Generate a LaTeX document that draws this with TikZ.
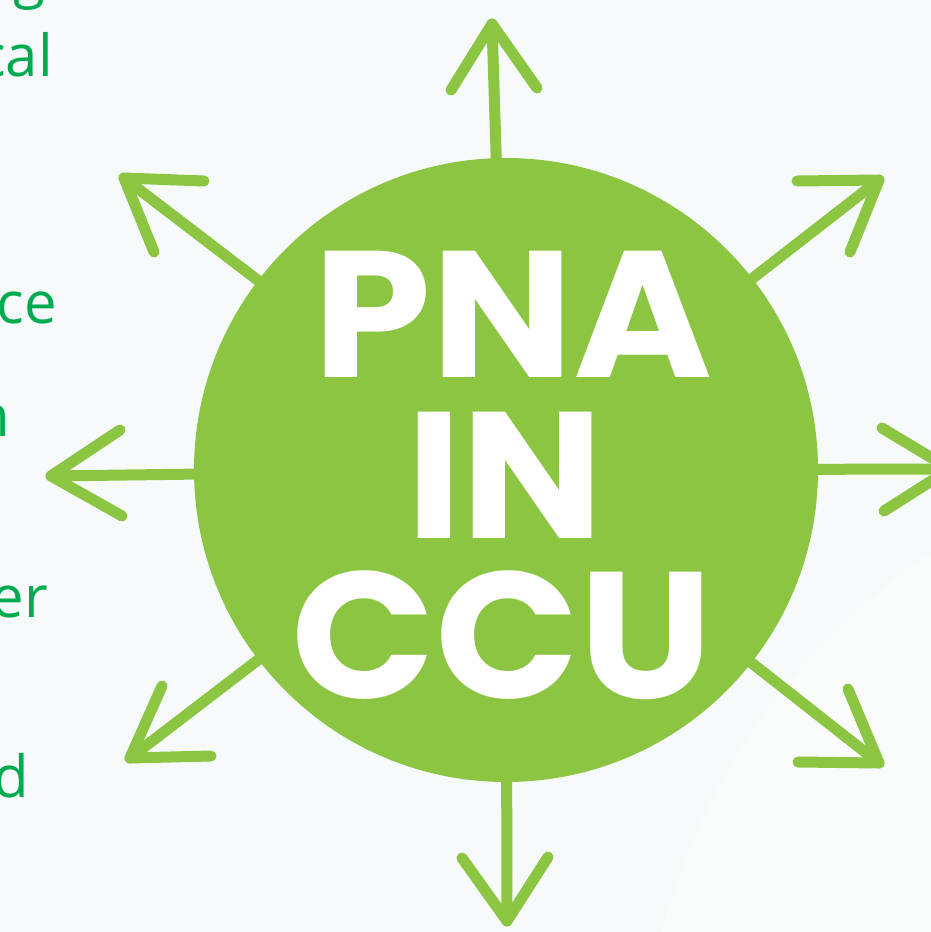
\documentclass[tikz,border=0pt]{standalone}
\usepackage{fontspec}
\setmainfont{Open Sans}
\newfontfamily\titlefont[FakeStretch=1.05]{Poppins}
\usetikzlibrary{positioning}
\definecolor{pnagreen}{HTML}{8BC541}
\definecolor{textgreen}{HTML}{00AB4F}
\definecolor{paper}{HTML}{F6FAFB}
\definecolor{paperlight}{HTML}{FAFCFC}

\begin{document}
\begin{tikzpicture}[x=1pt,y=-1pt,
  ray/.style={draw=pnagreen,line width=11pt,line cap=round,line join=round},
  side_text/.style={text=textgreen,font=\fontsize{58}{60}\selectfont,anchor=base east,inner sep=0pt},
  title_text/.style={text=white,font=\titlefont\bfseries\fontsize{180}{180}\selectfont,anchor=base,inner sep=0pt,text height=128pt,text depth=0pt}]
\useasboundingbox (0,0) rectangle (931,932);
\fill[paper] (0,0) rectangle (931,932);
\fill[paperlight] (1300,1100) circle (660);
% cut text on the left
\node[side_text] (text_a) at (45,-4) {g};
\node[side_text] (text_b) at (53,76) {cal};
\node[side_text] (text_c) at (57,323) {nce};
\node[side_text] (text_d) at (10,436) {n};
\node[side_text] (text_e) at (48,617) {er};
\node[side_text] (text_f) at (29,797) {d};
% tips and arm ends
\coordinate (tip_n) at (492,24);
\coordinate (arm_n_a) at (451,90);
\coordinate (arm_n_b) at (537,88);
\coordinate (tip_ne) at (879,180);
\coordinate (arm_ne_a) at (797,181);
\coordinate (arm_ne_b) at (850,252);
\coordinate (tip_e) at (950,469);
\coordinate (arm_e_a) at (882,428);
\coordinate (arm_e_b) at (884,511);
\coordinate (tip_se) at (879,763);
\coordinate (arm_se_a) at (848,689);
\coordinate (arm_se_b) at (798,762);
\coordinate (tip_s) at (507,921);
\coordinate (arm_s_a) at (462,858);
\coordinate (arm_s_b) at (548,857);
\coordinate (tip_sw) at (130,758);
\coordinate (arm_sw_a) at (162,686);
\coordinate (arm_sw_b) at (211,756);
\coordinate (tip_w) at (51,476);
\coordinate (arm_w_a) at (120,430);
\coordinate (arm_w_b) at (122,516);
\coordinate (tip_nw) at (124,178);
\coordinate (arm_nw_a) at (204,181);
\coordinate (arm_nw_b) at (154,252);
\node[circle,fill=pnagreen,minimum size=624pt,inner sep=0pt] (hub) at (506,470) {};
\draw[ray] (hub) -- (tip_n);
\draw[ray] (arm_n_a) -- (tip_n) -- (arm_n_b);
\draw[ray] (hub) -- (tip_ne);
\draw[ray] (arm_ne_a) -- (tip_ne) -- (arm_ne_b);
\draw[ray] (hub) -- (tip_e);
\draw[ray] (arm_e_a) -- (tip_e) -- (arm_e_b);
\draw[ray] (hub) -- (tip_se);
\draw[ray] (arm_se_a) -- (tip_se) -- (arm_se_b);
\draw[ray] (hub) -- (tip_s);
\draw[ray] (arm_s_a) -- (tip_s) -- (arm_s_b);
\draw[ray] (hub) -- (tip_sw);
\draw[ray] (arm_sw_a) -- (tip_sw) -- (arm_sw_b);
\draw[ray] (hub) -- (tip_w);
\draw[ray] (arm_w_a) -- (tip_w) -- (arm_w_b);
\draw[ray] (hub) -- (tip_nw);
\draw[ray] (arm_nw_a) -- (tip_nw) -- (arm_nw_b);
% title
\node[title_text] (line_pna) at (513,377) {PNA};
\node[title_text] (line_in) at (505,538) {IN};
\node[title_text] (line_ccu) at (502,698) {CCU};
\end{tikzpicture}
\end{document}
